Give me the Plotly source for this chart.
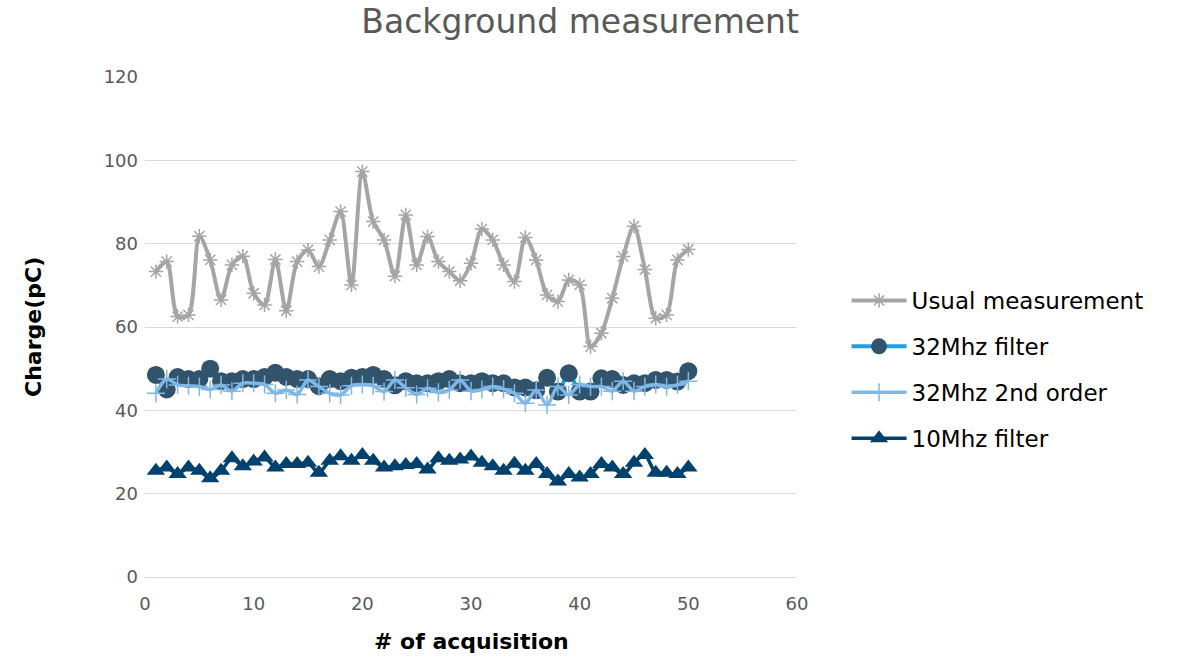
import plotly.graph_objects as go

acquisition = list(range(1, 51))

usual_measurement = [73.3, 75.7, 62.5, 62.9, 81.8, 76.1, 66.5, 74.9, 77.0, 68.1,
                     65.3, 76.2, 63.9, 75.7, 78.5, 74.5, 80.9, 87.7, 70.1, 97.3,
                     85.3, 80.9, 72.2, 86.9, 74.9, 81.7, 75.7, 73.3, 71.1, 75.3,
                     83.5, 80.9, 74.9, 70.9, 81.5, 76.1, 67.7, 66.1, 71.3, 70.1,
                     55.3, 58.5, 66.9, 76.9, 84.2, 73.8, 62.1, 62.9, 76.1, 78.6]

filter_32mhz = [48.5, 45.0, 48.0, 47.5, 47.5, 50.0, 47.0, 47.0, 47.5, 47.5,
                48.0, 49.0, 48.0, 47.5, 47.5, 45.8, 47.5, 47.0, 47.8, 48.0,
                48.5, 47.5, 46.0, 47.0, 46.5, 46.5, 47.0, 47.5, 46.5, 46.5,
                47.0, 46.5, 46.5, 45.5, 45.5, 44.8, 47.8, 44.5, 48.9, 44.5,
                44.5, 47.7, 47.5, 46.1, 46.5, 46.5, 47.3, 47.3, 46.9, 49.4]

second_order_32mhz = [44.1, 47.5, 46.1, 45.9, 45.7, 45.0, 46.1, 44.6, 46.5, 46.5,
                      46.2, 44.1, 44.9, 43.8, 47.3, 45.7, 44.1, 43.7, 45.9, 46.2,
                      45.9, 44.5, 47.3, 45.4, 43.8, 45.3, 44.3, 44.9, 47.3, 44.6,
                      45.0, 45.7, 45.1, 44.1, 41.7, 44.9, 41.3, 45.7, 43.7, 46.2,
                      45.7, 45.7, 44.6, 47.0, 44.6, 45.7, 46.2, 45.7, 46.1, 47.0]

filter_10mhz = [25.5, 26.3, 24.7, 26.3, 25.5, 23.7, 25.5, 28.5, 26.6, 27.7,
                28.7, 26.3, 27.1, 27.1, 27.4, 25.0, 27.9, 29.0, 27.9, 29.3,
                27.9, 26.3, 26.6, 26.9, 27.1, 25.8, 28.5, 27.9, 28.2, 28.9,
                27.4, 26.6, 25.5, 27.2, 25.5, 27.1, 24.7, 22.9, 24.7, 23.9,
                24.7, 27.1, 26.3, 24.7, 27.4, 29.3, 25.0, 25.0, 24.7, 26.3]

y_ticks = [0, 20, 40, 60, 80, 100, 120]
x_ticks = [0, 10, 20, 30, 40, 50, 60]

FONT = "DejaVu Sans, Arial, sans-serif"

fig = go.Figure()

fig.add_trace(go.Scatter(
    x=acquisition, y=usual_measurement, name="Usual measurement",
    mode="lines+markers", legendgroup="a",
    line=dict(color="#A5A5A5", width=4, shape="spline", smoothing=0.8),
    marker=dict(symbol="asterisk-open", size=12,
                line=dict(color="#A5A5A5", width=1.5)),
))

fig.add_trace(go.Scatter(
    x=acquisition, y=filter_32mhz, name="32Mhz filter",
    mode="lines+markers", legendgroup="b",
    line=dict(color="#1BA1E2", width=4, shape="spline", smoothing=0.8),
    marker=dict(symbol="circle", size=18, color="#31536C"),
))

fig.add_trace(go.Scatter(
    x=acquisition, y=second_order_32mhz, name="32Mhz 2nd order",
    mode="lines+markers", legendgroup="c",
    line=dict(color="#7FB8E6", width=3.5, shape="spline", smoothing=0.8),
    marker=dict(symbol="cross-thin-open", size=13,
                line=dict(color="#7FB8E6", width=1.5)),
))

fig.add_trace(go.Scatter(
    x=acquisition, y=filter_10mhz, name="10Mhz filter",
    mode="lines+markers", legendgroup="d",
    line=dict(color="#00416E", width=3.5, shape="spline", smoothing=0.8),
    marker=dict(symbol="triangle-up", size=16, color="#00416E"),
))

fig.update_layout(
    width=1178, height=657,
    margin=dict(l=145, r=381, t=77, b=80),
    paper_bgcolor="white", plot_bgcolor="white",
    font=dict(family=FONT, color="#595959"),
    title=dict(text="Background measurement", x=0.4925, xanchor="center",
               y=0.967, yanchor="middle",
               font=dict(size=33, color="#595959")),
    legend=dict(x=1.076, xanchor="left", y=0.415, yanchor="middle",
                font=dict(size=23, color="#000000"),
                tracegroupgap=13, itemwidth=55, bgcolor="rgba(0,0,0,0)"),
    showlegend=True,
    annotations=[
        dict(text="<b># of acquisition</b>", xref="paper", yref="paper",
             x=0.5, y=-0.128, xanchor="center", yanchor="middle",
             showarrow=False, font=dict(size=22, color="#000000")),
        dict(text="<b>Charge(pC)</b>", xref="paper", yref="paper",
             x=-0.1718, y=0.5, xanchor="center", yanchor="middle",
             textangle=-90, showarrow=False,
             font=dict(size=22, color="#000000")),
    ],
)

fig.update_xaxes(
    range=[0, 60], tickvals=x_ticks, ticks="", showgrid=False,
    showline=True, linecolor="#D9D9D9", linewidth=1, zeroline=False,
    tickfont=dict(size=18, color="#595959"), ticklabelstandoff=10,
    automargin=False,
)

fig.update_yaxes(
    range=[0, 120], tickvals=y_ticks, ticks="", showgrid=True,
    gridcolor="#D9D9D9", gridwidth=1, zeroline=False, showline=False,
    tickfont=dict(size=18, color="#595959"), ticklabelstandoff=6,
    automargin=False,
)

fig.write_html("out.html")
